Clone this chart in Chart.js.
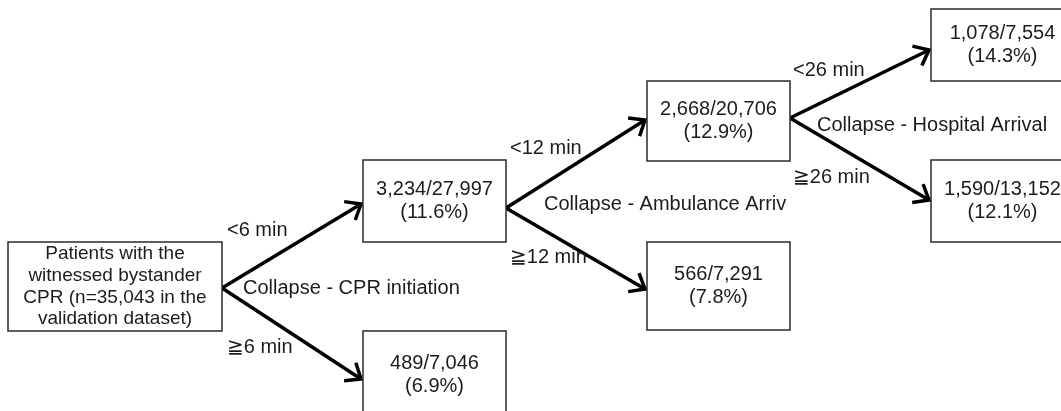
<!DOCTYPE html>
<html>
<head>
<meta charset="utf-8">
<script src="https://cdn.jsdelivr.net/npm/chart.js@4.4.1/dist/chart.umd.min.js"></script>
<style>
    body { margin: 0; background: #fff; }
    #wrap { width: 1061px; height: 411px; position: relative; }
</style>
</head>
<body>
<div id="wrap"><canvas id="treeChart"></canvas></div>
<script>
// tree data
const rootLines = ['Patients with the', 'witnessed bystander', 'CPR (n=35,043 in the', 'validation dataset)'];
const nodeEvents = [null, 3234, 489, 2668, 566, 1078, 1590];
const nodeTotals = [35043, 27997, 7046, 20706, 7291, 7554, 13152];
const nodePercents = [null, '11.6', '6.9', '12.9', '7.8', '14.3', '12.1'];
const splitNames = ['Collapse - CPR initiation', 'Collapse - Ambulance Arriv', 'Collapse - Hospital Arrival'];
const lessLabels = ['<6 min', '<12 min', '<26 min'];
const geLabels = ['\u22676 min', '\u226712 min', '\u226726 min'];
// parent node, child below threshold, child at/above threshold
const splits = [[0, 1, 2], [1, 3, 4], [3, 5, 6]];

// layout (axis units = pixels)
const boxLeft = [8, 363, 363, 647, 647, 931, 931];
const boxTop = [242, 160, 331, 81, 242, 9, 160];
const boxWidth = [214, 143, 143, 143, 143, 143, 143];
const boxHeight = [89, 82, 88, 80, 88, 72, 82];
// small vertical shifts of where arrows leave / enter a box
const outShift = [1.5, 7, 0, -3, 0, 0, 0];
const inShift = [0, 3, 4, -1, 3, 5, -1];
const lessPos = [[227, 230], [510, 148], [793, 70]];
const gePos = [[227, 347], [510, 257], [793, 177]];
const namePos = [[243, 288], [544, 204], [817, 125]];

const FONT = '"Liberation Sans", Arial, "DejaVu Sans", sans-serif';
const TEXT_COLOR = '#1c1c1c';

function midY(i) { return boxTop[i] + boxHeight[i] / 2; }

// one line dataset per arrow
const arrowSets = [];
splits.forEach(s => {
    [s[1], s[2]].forEach(child => {
        arrowSets.push({
            data: [
                { x: boxLeft[s[0]] + boxWidth[s[0]], y: midY(s[0]) + outShift[s[0]] },
                { x: boxLeft[child] - 2, y: midY(child) + inShift[child] }
            ],
            showLine: true,
            borderColor: '#000',
            borderWidth: 3.5,
            pointRadius: 0,
            clip: false
        });
    });
});

const treePlugin = {
    id: 'treePlugin',
    afterDatasetsDraw(chart) {
        const ctx = chart.ctx;
        const xs = chart.scales.x, ys = chart.scales.y;
        ctx.save();

        // arrow heads
        chart.data.datasets.forEach(ds => {
            const a = ds.data[0], b = ds.data[1];
            const x1 = xs.getPixelForValue(a.x), y1 = ys.getPixelForValue(a.y);
            const x2 = xs.getPixelForValue(b.x), y2 = ys.getPixelForValue(b.y);
            const ang = Math.atan2(y2 - y1, x2 - x1);
            const len = 17, spread = Math.PI / 4.6;
            ctx.strokeStyle = '#000';
            ctx.lineWidth = 3.5;
            ctx.lineJoin = 'miter';
            ctx.beginPath();
            ctx.moveTo(x2 - len * Math.cos(ang - spread), y2 - len * Math.sin(ang - spread));
            ctx.lineTo(x2, y2);
            ctx.lineTo(x2 - len * Math.cos(ang + spread), y2 - len * Math.sin(ang + spread));
            ctx.stroke();
        });

        // boxes
        boxLeft.forEach((l, i) => {
            const px = xs.getPixelForValue(l), py = ys.getPixelForValue(boxTop[i]);
            const pw = xs.getPixelForValue(l + boxWidth[i]) - px;
            const ph = ys.getPixelForValue(boxTop[i] + boxHeight[i]) - py;
            ctx.fillStyle = '#fff';
            ctx.fillRect(px, py, pw, ph);
            ctx.strokeStyle = '#2a2a2a';
            ctx.lineWidth = 1.5;
            ctx.strokeRect(px, py, pw, ph);

            ctx.fillStyle = TEXT_COLOR;
            ctx.textAlign = 'center';
            ctx.textBaseline = 'middle';
            const cx = px + pw / 2, cy = py + ph / 2;
            if (i === 0) {
                ctx.font = '19px ' + FONT;
                rootLines.forEach((t, k) => {
                    ctx.fillText(t, cx, cy + (k - 1.5) * 21.7);
                });
            } else {
                ctx.font = '20px ' + FONT;
                const line1 = nodeEvents[i].toLocaleString('en-US') + '/' + nodeTotals[i].toLocaleString('en-US');
                const line2 = '(' + nodePercents[i] + '%)';
                ctx.fillText(line1, cx, cy - 11.5);
                ctx.fillText(line2, cx, cy + 11.5);
            }
        });

        // split labels
        ctx.font = '20px ' + FONT;
        ctx.fillStyle = TEXT_COLOR;
        ctx.textAlign = 'left';
        ctx.textBaseline = 'middle';
        splits.forEach((s, k) => {
            ctx.fillText(lessLabels[k], xs.getPixelForValue(lessPos[k][0]), ys.getPixelForValue(lessPos[k][1]));
            ctx.fillText(geLabels[k], xs.getPixelForValue(gePos[k][0]), ys.getPixelForValue(gePos[k][1]));
            ctx.fillText(splitNames[k], xs.getPixelForValue(namePos[k][0]), ys.getPixelForValue(namePos[k][1]));
        });
        ctx.restore();
    }
};

new Chart(document.getElementById('treeChart'), {
    type: 'scatter',
    data: { datasets: arrowSets },
    options: {
        responsive: true,
        maintainAspectRatio: false,
        animation: false,
        layout: { padding: 0 },
        scales: {
            x: { type: 'linear', min: 0, max: 1061, display: false },
            y: { type: 'linear', min: 0, max: 411, reverse: true, display: false }
        },
        plugins: {
            legend: { display: false },
            tooltip: { enabled: false }
        }
    },
    plugins: [treePlugin]
});
</script>
</body>
</html>
